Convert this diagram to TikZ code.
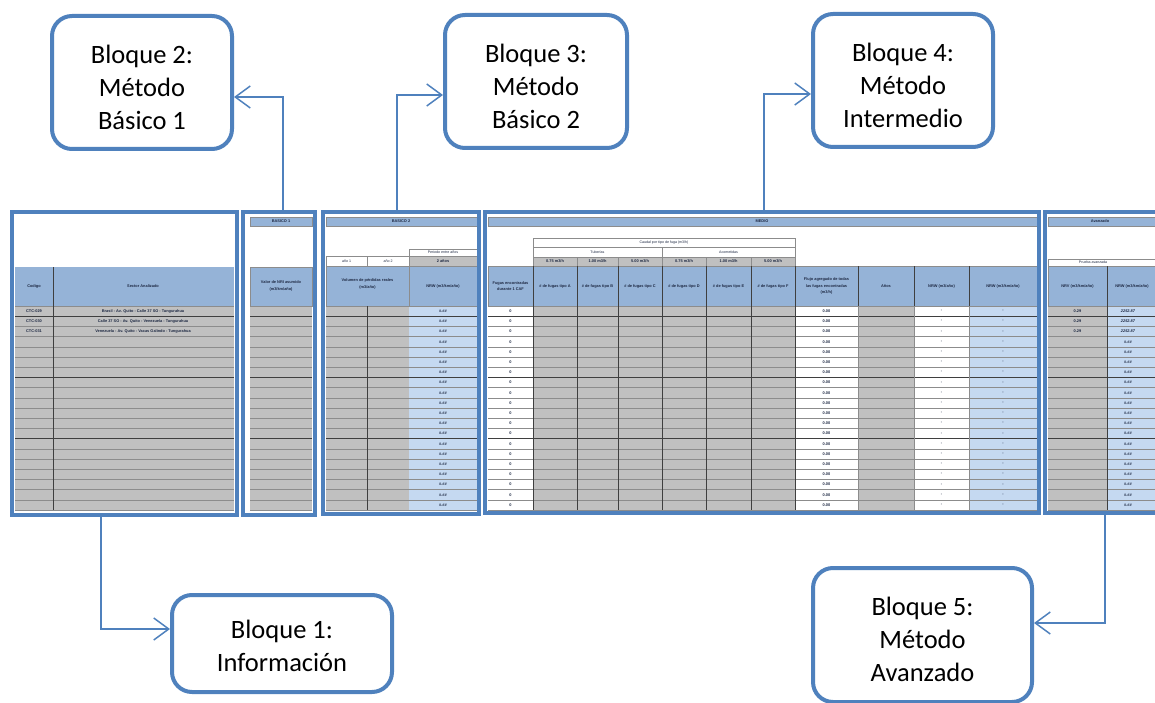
\documentclass[tikz,border=0pt]{standalone}
\usepackage{fontspec}
\setmainfont{Carlito}
\newfontfamily\cellfont{Liberation Sans}
\usetikzlibrary{arrows.meta}
\definecolor{frame}{HTML}{4F81BD}
\definecolor{hdr}{HTML}{95B3D7}
\definecolor{cellgrey}{HTML}{C0C0C0}
\definecolor{cellblue}{HTML}{C5D9F1}
\definecolor{gridline}{HTML}{8C8C8C}
\definecolor{gridbold}{HTML}{3F3F3F}
\definecolor{celltext}{HTML}{1F2A44}
\begin{document}
\begin{tikzpicture}[x=1pt,y=-1pt,
  callout/.style={draw=frame, line width=4pt, rounded corners=20pt, fill=white, inner sep=0pt},
  callouttext/.style={align=center, inner sep=0pt, font=\fontsize{26.5}{33}\selectfont},
  blockframe/.style={draw=frame, line width=4pt, inner sep=0pt},
  link/.style={draw=frame, line width=1.5pt,
    -{Straight Barb[length=15pt,width=22pt,line width=1.5pt]}},
  cell/.style={font=\cellfont\fontsize{3.9}{4.6}\selectfont\bfseries,
    text=celltext, inner sep=0pt, align=center},
  scell/.style={cell, font=\cellfont\fontsize{3.6}{4.2}\selectfont},
  icell/.style={cell, font=\cellfont\fontsize{3.9}{4.6}\selectfont\bfseries\itshape},
  gridthin/.style={draw=gridline, line width=0.5pt},
  gridthick/.style={draw=gridbold, line width=1.1pt},
  colline/.style={draw=gridbold, line width=0.7pt},
  box/.style={draw=gridline, line width=0.5pt}]
\useasboundingbox (0,0) rectangle (1155,703);
\clip (0,0) rectangle (1155,703);

% ================= Block 1: general data =================
\fill[hdr] (15,267) rectangle (234,306);
\fill[cellgrey] (15,306) rectangle (234,510);
\foreach \i in {0,...,20} \draw[gridthin] (15,306+\i*10.2) -- (234,306+\i*10.2);
\foreach \i in {1,7,13} \draw[gridthick] (15,306+\i*10.2) -- (234,306+\i*10.2);
\draw[colline] (53,267) -- (53,510);
\node[cell] at (34,286) {Codigo};
\node[cell] at (143,286) {Sector Analizado};
\node[cell] at (34,311.1) {CTC-029};
\node[cell] at (34,321.3) {CTC-030};
\node[cell] at (34,331.5) {CTC-031};
\node[cell] at (143,311.1) {Brasil - Av. Quito - Calle 37 SO - Tungurahua};
\node[cell] at (143,321.3) {Calle 37 SO - Av. Quito - Venezuela - Tungurahua};
\node[cell] at (143,331.5) {Venezuela - Av. Quito - Vacas Galindo - Tungurahua};

% ================= Block 2: BASICO 1 =================
\filldraw[fill=hdr, box] (250,217) rectangle (312,226);
\node[cell] at (281,221.5) {BASICO 1};
\filldraw[fill=hdr, box] (250,267) rectangle (312,306);
\node[cell] at (281,286) {Valor de NRI asumido\\[1.5pt](m3/km/año)};
\fill[cellgrey] (250,306) rectangle (312,510);
\foreach \i in {0,...,20} \draw[gridthin] (250,306+\i*10.2) -- (312,306+\i*10.2);
\foreach \i in {1,7,13} \draw[gridthick] (250,306+\i*10.2) -- (312,306+\i*10.2);

% ================= Block 3: BASICO 2 =================
\filldraw[fill=hdr, box] (326,217) rectangle (477,226);
\node[cell] at (401,221.5) {BASICO 2};
\draw[box] (409,249) rectangle (477,256);
\node[scell] at (443,252.5) {Periodo entre años};
\filldraw[fill=cellgrey, box] (409,256) rectangle (477,266);
\node[cell] at (443,261) {2 años};
\draw[box] (326,256) rectangle (367,266) (367,256) rectangle (409,266);
\node[scell] at (346.5,261) {año 1};
\node[scell] at (388,261) {año 2};
\filldraw[fill=hdr, box] (326,266) rectangle (409,306);
\filldraw[fill=hdr, box] (409,266) rectangle (477,306);
\node[cell] at (367.5,284) {Volumen de pérdidas reales\\[1.5pt](m3/año)};
\node[cell] at (443,286) {NRW (m3/km/año)};
\fill[cellgrey] (326,306) rectangle (409,510);
\fill[cellblue] (409,306) rectangle (477,510);
\foreach \i in {0,...,20} \draw[gridthin] (326,306+\i*10.2) -- (477,306+\i*10.2);
\foreach \i in {1,7,13} \draw[gridthick] (326,306+\i*10.2) -- (477,306+\i*10.2);
\draw[colline] (367,306) -- (367,510);
\foreach \i in {0,...,19} \node[icell] at (443,306+\i*10.2+5.1) {\#.\#\#};

% ================= Block 4: MEDIO =================
\filldraw[fill=hdr, box] (488,217) rectangle (1037,226);
\node[cell] at (762,221.5) {MEDIO};
\draw[box] (533,238) rectangle (795,247);
\node[scell] at (664,242.5) {Caudal por tipo de fuga (m3/h)};
\draw[box] (533,247) rectangle (662,257) (662,247) rectangle (795,257);
\node[scell] at (597.5,252) {Tuberías};
\node[scell] at (728.5,252) {Acometidas};
\filldraw[fill=cellgrey, box] (533,257) rectangle (795,266);
\foreach \a in {577,618,662,706,751} \draw[box] (\a,257) -- (\a,266);
\foreach \c/\t in {555/{0.75 m3/h},597.5/{1.00 m3/h},640/{5.00 m3/h},684/{0.75 m3/h},728.5/{1.00 m3/h},773/{5.00 m3/h}}
  \node[cell] at (\c,261.5) {\t};
\filldraw[fill=hdr, box] (488,266) rectangle (1037,306);
\foreach \a in {533,577,618,662,706,751,795,858,914,969} \draw[colline] (\a,266) -- (\a,306);
\node[cell] at (510.5,286) {Fugas encontradas\\[1.5pt]durante 1 CAF};
\foreach \c/\t in {555/A,597.5/B,640/C,684/D,728.5/E,773/F}
  \node[cell] at (\c,286) {\# de fugas tipo \t};
\node[cell] at (826.5,286) {Flujo agregado de todas\\[1.5pt]las fugas encontradas\\[1.5pt](m3/h)};
\node[cell] at (886,286) {Años};
\node[cell] at (941.5,286) {NRW (m3/año)};
\node[cell] at (1003,286) {NRW (m3/km/año)};
\fill[cellgrey] (533,306) rectangle (795,510);
\fill[cellgrey] (858,306) rectangle (914,510);
\fill[cellblue] (969,306) rectangle (1037,510);
\foreach \i in {0,...,20} \draw[gridthin] (488,306+\i*10.2) -- (1037,306+\i*10.2);
\foreach \i in {1,7,13} \draw[gridthick] (488,306+\i*10.2) -- (1037,306+\i*10.2);
\foreach \a in {533,577,618,662,706,751,795} \draw[colline] (\a,306) -- (\a,510);
\foreach \a in {858,914,969} \draw[gridthin] (\a,306) -- (\a,510);
\foreach \i in {0,...,19} {
  \node[cell] at (510.5,306+\i*10.2+5.1) {0};
  \node[cell] at (826.5,306+\i*10.2+5.1) {0.00};
  \node[cell] at (941.5,306+\i*10.2+5.1) {-};
  \node[cell] at (1003,306+\i*10.2+5.1) {-};
}

% ================= Block 5: Avanzado =================
\filldraw[fill=hdr, box] (1048,217) rectangle (1170,226);
\node[cell] at (1100,221.5) {Avanzado};
\draw[box] (1048,259) rectangle (1170,266);
\node[scell] at (1093,262.5) {Prueba avanzada};
\filldraw[fill=hdr, box] (1048,266) rectangle (1170,306);
\draw[colline] (1107,266) -- (1107,510);
\node[cell] at (1077.5,286) {NRV (m3/km/año)};
\node[cell] at (1132,286) {NRW (m3/km/año)};
\fill[cellgrey] (1048,306) rectangle (1107,510);
\fill[cellblue] (1107,306) rectangle (1170,510);
\foreach \i in {0,...,20} \draw[gridthin] (1048,306+\i*10.2) -- (1170,306+\i*10.2);
\foreach \i in {1,7,13} \draw[gridthick] (1048,306+\i*10.2) -- (1170,306+\i*10.2);
\draw[colline] (1107,306) -- (1107,510);
\foreach \i in {0,1,2} {
  \node[cell] at (1077.5,306+\i*10.2+5.1) {0.29};
  \node[icell] at (1128,306+\i*10.2+5.1) {2252.87};
}
\foreach \i in {3,...,19} \node[icell] at (1128,306+\i*10.2+5.1) {\#.\#\#};

% ================= Block frames =================
\node[blockframe, minimum width=225, minimum height=303] (t1) at (124.5,363.5) {};
\node[blockframe, minimum width=72,  minimum height=303] (t2) at (279,363.5) {};
\node[blockframe, minimum width=156, minimum height=302] (t3) at (401,363) {};
\node[blockframe, minimum width=554, minimum height=301] (t4) at (762,362.5) {};
\node[blockframe, minimum width=130, minimum height=301] (t5) at (1110,362.5) {};

% ================= Callouts =================
\node[callout, minimum width=220, minimum height=97]  (b1) at (282,643.5) {};
\node[callout, minimum width=180, minimum height=133] (b2) at (142,82.5) {};
\node[callout, minimum width=182, minimum height=133] (b3) at (536,81.5) {};
\node[callout, minimum width=180, minimum height=133] (b4) at (903,80.5) {};
\node[callout, minimum width=219, minimum height=134] (b5) at (922.5,635) {};
\node[callouttext] (b1t) at ([yshift=-2pt]b1.center) {Bloque 1:\\Información};
\node[callouttext] (b2t) at ([yshift=-4.5pt]b2.center) {Bloque 2:\\Método\\Básico 1};
\node[callouttext] (b3t) at ([yshift=-4.5pt]b3.center) {Bloque 3:\\Método\\Básico 2};
\node[callouttext] (b4t) at ([yshift=-4.5pt]b4.center) {Bloque 4:\\Método\\Intermedio};
\node[callouttext] (b5t) at ([yshift=-4pt]b5.center) {Bloque 5:\\Método\\Avanzado};

% ================= Connectors =================
\draw[link] ([xshift=-23.5pt]t1.south) |- ([yshift=14.5pt]b1.west);
\draw[link] ([xshift=4pt]t2.north) |- ([yshift=-14.5pt]b2.east);
\draw[link] ([xshift=-4pt]t3.north) |- ([yshift=-13.5pt]b3.west);
\draw[link] ([xshift=2pt]t4.north) |- ([yshift=-13.5pt]b4.west);
\draw[link] ([xshift=-5pt]t5.south) |- ([yshift=12pt]b5.east);
\end{tikzpicture}
\end{document}
